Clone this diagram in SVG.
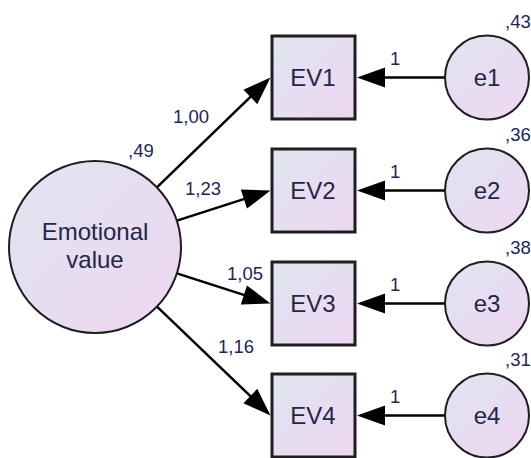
<svg xmlns="http://www.w3.org/2000/svg" width="531" height="458" viewBox="0 0 531 458">
  <defs>
    <linearGradient id="fillGrad" x1="0" y1="0" x2="1" y2="1">
      <stop offset="0" stop-color="#dfe5ef"/>
      <stop offset="1" stop-color="#eed6f2"/>
    </linearGradient>
    <marker id="head" markerUnits="userSpaceOnUse" markerWidth="28" markerHeight="20" refX="8" refY="10" orient="auto" overflow="visible">
      <path d="M0,0 L28,10 L0,20 Z" fill="#000"/>
    </marker>
  </defs>
  <style>
    .shape { fill: url(#fillGrad); stroke: #1e1e1e; }
    .box { stroke-width: 3; }
    .circ { stroke-width: 2; }
    .name { font-family: "Liberation Sans", Arial, sans-serif; font-size: 24px; fill: #23264a; text-anchor: middle; }
    .num { font-family: "Liberation Sans", Arial, sans-serif; font-size: 18.5px; fill: #1c2560; }
    .edge { stroke: #000; stroke-width: 2.5; fill: none; marker-end: url(#head); }
  </style>
  <rect width="531" height="458" fill="#fff"/>

  <g id="connectors">
    <line class="edge" x1="156.9" y1="187.3" x2="256.1" y2="91.4"/>
    <line class="edge" x1="176.9" y1="220.6" x2="251.5" y2="196.6"/>
    <line class="edge" x1="176.9" y1="273.4" x2="251.5" y2="297.4"/>
    <line class="edge" x1="157.0" y1="306.6" x2="256.1" y2="401.6"/>
    <line class="edge" x1="445" y1="77.5" x2="377" y2="77.5"/>
    <line class="edge" x1="445" y1="190.5" x2="377" y2="190.5"/>
    <line class="edge" x1="445" y1="303.5" x2="377" y2="303.5"/>
    <line class="edge" x1="445" y1="415.5" x2="377" y2="415.5"/>
    <text class="num" x="173" y="123">1,00</text>
    <text class="num" x="185" y="195">1,23</text>
    <text class="num" x="227" y="280">1,05</text>
    <text class="num" x="218" y="353">1,16</text>
    <text class="num" x="390" y="65">1</text>
    <text class="num" x="390" y="178">1</text>
    <text class="num" x="390" y="291">1</text>
    <text class="num" x="390" y="403">1</text>
  </g>

  <g id="emotional-value">
    <circle class="shape circ" cx="95" cy="247" r="86"/>
    <text class="name" x="95" y="240">Emotional</text>
    <text class="name" x="95" y="268">value</text>
    <text class="num" x="128" y="157">,49</text>
  </g>

  <g id="EV1">
    <rect class="shape box" x="272" y="36" width="83" height="83"/>
    <text class="name" x="313" y="86">EV1</text>
  </g>
  <g id="EV2">
    <rect class="shape box" x="272" y="149" width="83" height="83"/>
    <text class="name" x="313" y="199">EV2</text>
  </g>
  <g id="EV3">
    <rect class="shape box" x="272" y="262" width="83" height="83"/>
    <text class="name" x="313" y="312">EV3</text>
  </g>
  <g id="EV4">
    <rect class="shape box" x="272" y="374" width="83" height="83"/>
    <text class="name" x="313" y="424">EV4</text>
  </g>

  <g id="e1">
    <circle class="shape circ" cx="487" cy="77.5" r="42"/>
    <text class="name" x="487" y="86">e1</text>
    <text class="num" x="505" y="28">,43</text>
  </g>
  <g id="e2">
    <circle class="shape circ" cx="487" cy="190.5" r="42"/>
    <text class="name" x="487" y="199">e2</text>
    <text class="num" x="505" y="141">,36</text>
  </g>
  <g id="e3">
    <circle class="shape circ" cx="487" cy="303.5" r="42"/>
    <text class="name" x="487" y="312">e3</text>
    <text class="num" x="505" y="254">,38</text>
  </g>
  <g id="e4">
    <circle class="shape circ" cx="487" cy="415.5" r="42"/>
    <text class="name" x="487" y="424">e4</text>
    <text class="num" x="505" y="366">,31</text>
  </g>
</svg>
